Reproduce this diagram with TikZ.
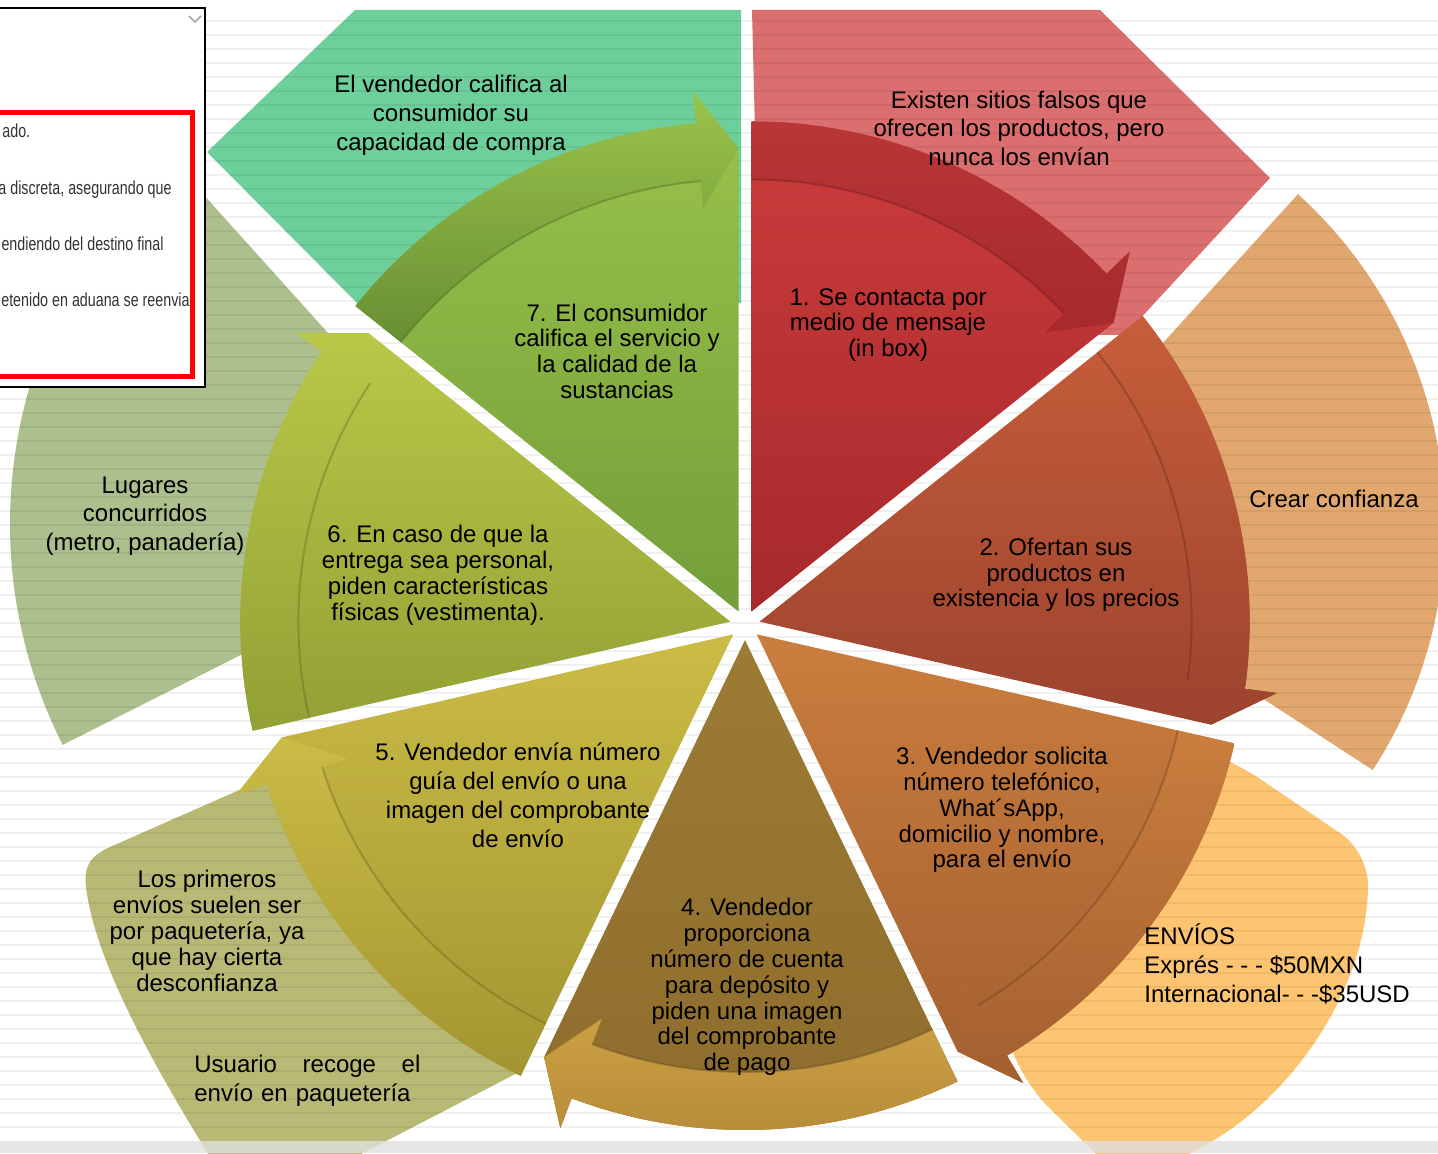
\documentclass[tikz,border=0pt]{standalone}
\usepackage{fontspec}
\setmainfont{Liberation Sans}
\newfontfamily\narrowfont{Liberation Sans}[FakeStretch=0.76]
% note shapes behind the cycle
\definecolor{lightred}{HTML}{DB6E6E}
\definecolor{mint}{HTML}{6DD09B}
\definecolor{peach}{HTML}{E1A76E}
\definecolor{sand}{HTML}{FDC572}
\definecolor{olive}{HTML}{B8B975}
\definecolor{sage}{HTML}{ACBF8D}
% cycle segments
\definecolor{redtop}{HTML}{CD3C3C}
\definecolor{redbot}{HTML}{A6292C}
\definecolor{rusttop}{HTML}{C65E3A}
\definecolor{rustbot}{HTML}{9C432E}
\definecolor{orangetop}{HTML}{CA7E3E}
\definecolor{orangebot}{HTML}{A35F30}
\definecolor{browntop}{HTML}{9C7B34}
\definecolor{brownbot}{HTML}{8E6C2D}
\definecolor{goldtop}{HTML}{CBA044}
\definecolor{goldbot}{HTML}{B58A37}
\definecolor{mustardtop}{HTML}{CBBC46}
\definecolor{mustardbot}{HTML}{A29530}
\definecolor{limetop}{HTML}{B9C847}
\definecolor{limebot}{HTML}{92A035}
\definecolor{greentop}{HTML}{9AC44B}
\definecolor{greenbot}{HTML}{749E39}
% one slice of the cycle with its curved arrow
% #1 start angle, #2/#3 slice colours, #4/#5 arrow colours
\newcommand\cycleseg[5]{%
  \pgfmathsetmacro\segstart{#1}%
  \pgfmathsetmacro\segend{#1-51.43}%
  \pgfmathsetmacro\segmid{#1-25.71}%
  \pgfmathsetmacro\seghead{#1-46.43}%
  \begin{scope}[shift={(\segmid:15)}]
    \shade[top color=#2, bottom color=#3] (0,0) -- (\segstart:490)
      arc[start angle=\segstart, end angle=\seghead, radius=490]
      -- (\seghead:522) -- (\segend:463) -- cycle;
    \shade[top color=#4, bottom color=#5] (\segstart:432) -- (\segstart:490)
      arc[start angle=\segstart, end angle=\seghead, radius=490]
      -- (\seghead:522) -- (\segend:463) -- (\seghead:405) -- (\seghead:432)
      arc[start angle=\seghead, end angle=\segstart, radius=432] -- cycle;
    \draw[#3!60!black, opacity=.35, line width=1pt] (\seghead:432)
      arc[start angle=\seghead, end angle=\segstart, radius=432];
  \end{scope}}

\begin{document}
\begin{tikzpicture}[x=0.5pt, y=0.5pt,
  lbl/.style={align=center, inner sep=0pt, font=\fontsize{12}{#1}\selectfont},
  lbl/.default=14,
  rule/.style={draw=black, opacity=.06, line width=1.2pt},
  boxtext/.style={anchor=base east, inner sep=0pt, text=black!80,
    font=\narrowfont\fontsize{9.4}{10}\selectfont}]
\useasboundingbox (0,0) rectangle (1438,1153);

% notes behind the cycle
\fill[mint] (355,1143) -- (741,1143) -- (741,850) -- (357,850) -- (207,1001) -- cycle;
\fill[lightred] (752,1143) -- (1100,1143) -- (1270,975) -- (1125,818) -- (760,818) -- cycle;
\fill[peach] (997,627) -- ++(47.8:448) arc[start angle=47.8, end angle=-33, radius=448] -- cycle;
\fill[sand, rounded corners=16] (1232,393) -- (1368,301)
  arc[start angle=0, end angle=-75, radius=336] -- (1024,70) -- (960,250) -- (1150,420) -- cycle;
\fill[olive] (330,403) -- (110,306) .. controls (88,296) and (84,285) .. (86,266)
  .. controls (95,193) and (150,93) .. (215,-12) -- (340,-12) -- (523,83) -- (520,253) -- cycle;
\fill[sage] (500,629) -- ++(132:490) arc[start angle=132, end angle=206.8, radius=490] -- cycle;

\fill[black!12, opacity=.8] (0,0) rectangle (1438,12);
\foreach \y in {26,40,...,1140}
  \draw[rule] (0,\y) -- (1438,\y);

% the seven steps
\begin{scope}[shift={(745,528)}]
  \cycleseg{90}{redtop}{redbot}{redtop!90!black}{redbot}
  \cycleseg{38.57}{rusttop}{rustbot}{rusttop}{rustbot}
  \cycleseg{-12.86}{orangetop}{orangebot}{orangetop}{orangebot}
  \cycleseg{-64.29}{browntop}{brownbot}{goldtop}{goldbot}
  \cycleseg{-115.71}{mustardtop}{mustardbot}{mustardtop}{mustardbot}
  \cycleseg{-167.14}{limetop}{limebot}{limetop}{limebot}
  \cycleseg{141.43}{greentop}{greenbot}{greentop}{greenbot!90!black}
\end{scope}

\node[lbl=14.5] (calif) at (451,1038) {El vendedor califica al\\consumidor su\\capacidad de compra};
\node[lbl=14.25] (falsos) at (1019,1025) {Existen sitios falsos que\\ofrecen los productos, pero\\nunca los envían};
\node[lbl=12.75] (paso1) at (888,828) {1. Se contacta por\\medio de mensaje\\(in box)};
\node[lbl=12.75] (paso2) at (1056,578) {2. Ofertan sus\\productos en\\existencia y los precios};
\node[lbl=12.9] (paso3) at (1002,343) {3. Vendedor solicita\\número telefónico,\\What´sApp,\\domicilio y nombre,\\para el envío};
\node[lbl=12.9] (paso4) at (747,166) {4. Vendedor\\proporciona\\número de cuenta\\para depósito y\\piden una imagen\\del comprobante\\de pago};
\node[lbl=14.5] (paso5) at (518,358) {5. Vendedor envía número\\guía del envío o una\\imagen del comprobante\\de envío};
\node[lbl=13] (paso6) at (438,578) {6. En caso de que la\\entrega sea personal,\\piden características\\físicas (vestimenta).};
\node[lbl=12.85] (paso7) at (617,802) {7. El consumidor\\califica el servicio y\\la calidad de la\\sustancias};
\node[lbl] (confianza) at (1334,654) {Crear confianza};
\node[lbl=14.25] (lugares) at (145,637) {Lugares\\concurridos\\(metro, panadería)};
\node[lbl=12.9] (primeros) at (207,222) {Los primeros\\envíos suelen ser\\por paquetería, ya\\que hay cierta\\desconfianza};
\node[lbl=14.5, anchor=west, align=left] (envios) at (1144,189) {ENVÍOS\\Exprés - - - \$50MXN\\Internacional- - -\$35USD};
\node[lbl=14.5, anchor=west, align=left, text width=113pt] (recoge) at (194,72) {Usuario\hfill recoge\hfill el\\envío en paquetería};

% comment box on the left
\draw[fill=white, line width=1pt] (-5,766) rectangle (205,1145);
\draw[red, line width=2.5pt] (-10,776) rectangle (192,1040);
\draw[black!35, line width=.8pt] (189,1137) -- (195,1131) -- (201,1137);
\node[boxtext, anchor=base west] (nota1) at (2,1015) {ado.};
\node[boxtext] (nota2) at (172,958) {a discreta, asegurando que};
\node[boxtext] (nota3) at (164,902) {endiendo del destino final};
\node[boxtext] (nota4) at (190,846) {etenido en aduana se reenvia};
\end{tikzpicture}
\end{document}
